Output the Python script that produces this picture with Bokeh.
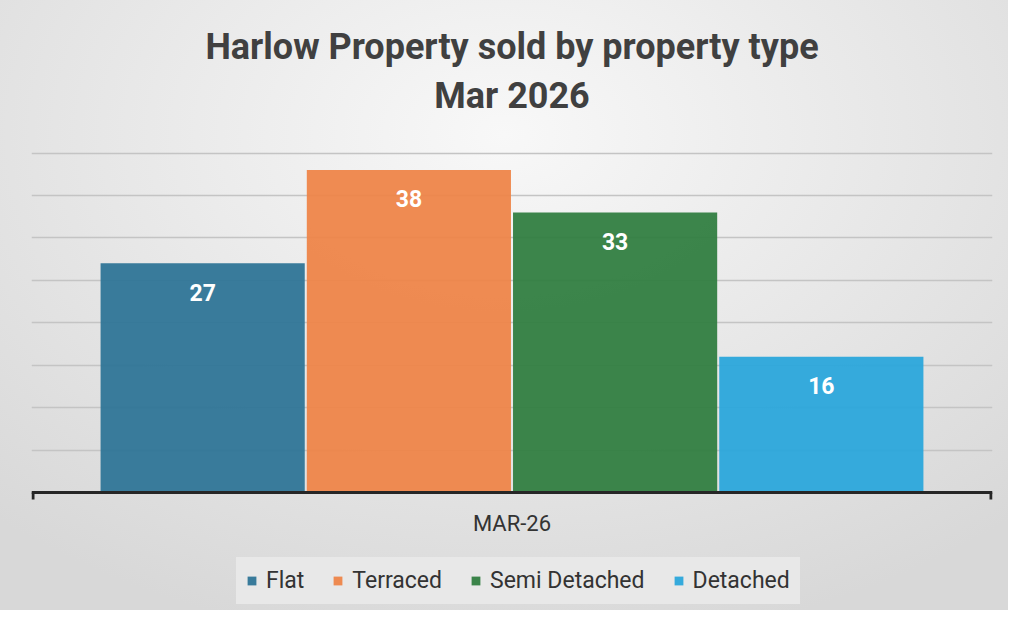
from bokeh.plotting import figure
from bokeh.models import (Range1d, FixedTicker, ColumnDataSource, Legend,
                          LegendItem, Grid, Span, Label)
from bokeh.core.properties import value
from bokeh.embed import file_html
from bokeh.resources import INLINE

title_lines = ["Harlow Property sold by property type", "Mar 2026"]
period = ["MAR-26"]
categories = ["Flat", "Terraced", "Semi Detached", "Detached"]
sold = [27, 38, 33, 16]
colors = ["#2F7597", "#EE8549", "#317E41", "#2BA6DB"]
grid_ticks = [5, 10, 15, 20, 25, 30, 35, 40]

# layout (pixels)
W, H = 1008, 610
LEFT, RIGHT = 31, 16
GRID_TOP_PX, AXIS_PX = 152.5, 492
TITLE1_PX, TITLE2_PX = 46, 95
px_per_y = (AXIS_PX - GRID_TOP_PX) / grid_ticks[-1]
y_end = AXIS_PX / px_per_y
y_start = -(H - AXIS_PX) / px_per_y
pad = 0.33
x0, x1 = -0.5 - pad, len(categories) - 0.5 + pad
px_per_x = (W - LEFT - RIGHT) / (x1 - x0)
xc = (x0 + x1) / 2

p = figure(width=W, height=H, output_backend="svg", toolbar_location=None,
           x_range=Range1d(x0, x1), y_range=Range1d(y_start, y_end),
           x_axis_location=None, y_axis_location=None,
           min_border_left=LEFT, min_border_right=RIGHT, min_border_top=0,
           min_border_bottom=0, title=None)
p.grid.visible = False
p.background_fill_color = None
p.border_fill_color = None
p.outline_line_color = None
p.styles = {"background-image": "radial-gradient(ellipse 75% 85% at 50% 22%, #f8f8f8 0%, #e8e8e8 50%, #d8d8d8 100%)"}

p.add_layout(Grid(dimension=1, ticker=FixedTicker(ticks=grid_ticks),
                  grid_line_color="#c4c4c4", grid_line_width=1.5))

xs = list(range(len(categories)))
src = ColumnDataSource(dict(x=xs, top=sold, lab=[str(v) for v in sold]))
items = []
for i, c in enumerate(categories):
    s = ColumnDataSource(dict(x=[xs[i]], top=[sold[i]]))
    r = p.vbar(x="x", top="top", width=0.99, bottom=0, source=s,
               fill_color=colors[i], fill_alpha=0.95, line_color=None)
    items.append(LegendItem(label=c, renderers=[r]))

p.text(x="x", y="top", text="lab", source=src, text_align="center",
       text_baseline="middle", y_offset=29, text_color="white",
       text_font=value("Roboto"), text_font_style="bold", text_font_size="23px")

# category axis line with end ticks
p.add_layout(Span(location=0, dimension="width", line_color="#262626", line_width=3))
inset = 1.5 / px_per_x
tick_len = 7 / px_per_y
p.segment(x0=[x0 + inset, x1 - inset], y0=[0, 0], x1=[x0 + inset, x1 - inset],
          y1=[-tick_len, -tick_len], line_color="#262626", line_width=3)
p.add_layout(Label(x=xc, y=0, y_offset=-31, text=period[0],
                   text_align="center", text_baseline="middle",
                   text_font="Roboto", text_font_size="22px", text_color="#333333"))

# titles
for txt, ypx in zip(title_lines, [TITLE1_PX, TITLE2_PX]):
    p.add_layout(Label(x=xc, y=(AXIS_PX - ypx) / px_per_y, text=txt,
                       text_align="center", text_baseline="middle",
                       text_font="Roboto", text_font_size="36px",
                       text_font_style="bold", text_color="#404040"))

legend = Legend(items=items, orientation="horizontal", location=(205, 6),
                label_text_font="Roboto", label_text_font_size="23px",
                label_text_color="#333333", glyph_width=11, glyph_height=11,
                spacing=28, padding=9, margin=0, label_standoff=9,
                background_fill_color="#e8e8e8", background_fill_alpha=1,
                border_line_color="#e8e8e8", border_line_width=1)
p.add_layout(legend, "center")

open("out.html", "w").write(file_html(p, INLINE))
